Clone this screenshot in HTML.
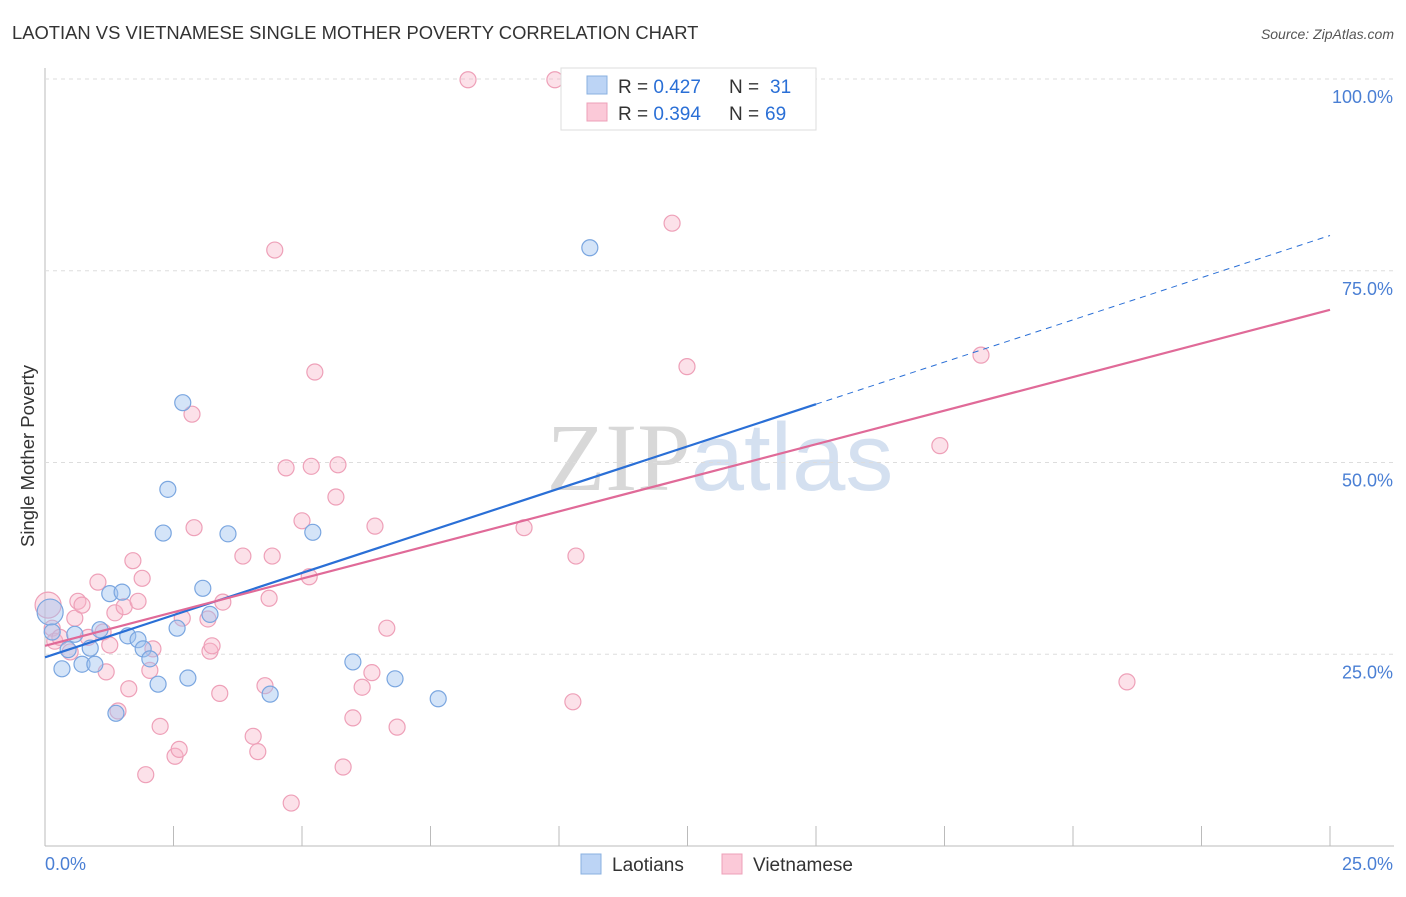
<!DOCTYPE html>
<html><head><meta charset="utf-8"><style>
body{margin:0;background:#fff;font-family:"Liberation Sans",sans-serif}
svg text{font-family:"Liberation Sans",sans-serif}
</style></head><body>
<svg id="chart" width="1406" height="892">
<text x="12" y="39" font-size="18.4" fill="#333">LAOTIAN VS VIETNAMESE SINGLE MOTHER POVERTY CORRELATION CHART</text>
<text x="1394" y="39" font-size="14" fill="#555" font-style="italic" text-anchor="end">Source: ZipAtlas.com</text>
<text x="34" y="456" font-size="18.5" fill="#333" transform="rotate(-90 34 456)" text-anchor="middle">Single Mother Poverty</text>
<text x="720" y="490" font-size="96" fill="#e4e4e4" text-anchor="middle"><tspan font-family="Liberation Serif" fill="#d8d8d8">ZIP</tspan><tspan fill="#d4e0f0">atlas</tspan></text>
<g id="grid"></g><g id="marks"></g><g id="lines"></g>
<g>
<rect x="561" y="68" width="255" height="62" fill="#fff" stroke="#ddd"/>
<rect x="587" y="76" width="20" height="18" fill="#bcd4f5" stroke="#8ab0e0"/>
<rect x="587" y="103" width="20" height="18" fill="#fbc9d8" stroke="#eea0b8"/>
<text x="618" y="93" font-size="19" fill="#333">R = <tspan fill="#2a6fd6">0.427</tspan></text>
<text x="729" y="93" font-size="19" fill="#333">N =</text>
<text x="770" y="93" font-size="19" fill="#2a6fd6">31</text>
<text x="618" y="120" font-size="19" fill="#333">R = <tspan fill="#2a6fd6">0.394</tspan></text>
<text x="729" y="120" font-size="19" fill="#333">N =</text>
<text x="765" y="120" font-size="19" fill="#2a6fd6">69</text>
</g>
<g>
<rect x="581" y="854" width="20" height="20" fill="#bcd4f5" stroke="#8ab0e0"/>
<text x="612" y="871" font-size="19" fill="#333">Laotians</text>
<rect x="722" y="854" width="20" height="20" fill="#fbc9d8" stroke="#eea0b8"/>
<text x="753" y="871" font-size="19" fill="#333">Vietnamese</text>
</g>
</svg>
<script>
const blueX=[0.10,0.14,0.33,0.45,0.58,0.72,0.88,0.97,1.07,1.26,1.38,1.50,1.61,1.81,1.91,2.04,2.20,2.30,2.39,2.57,2.68,2.78,3.07,3.21,3.56,4.38,5.21,5.99,6.81,7.65,10.6];
const blueY=[30.5,27.9,23.1,25.6,27.6,23.7,25.8,23.7,28.2,32.9,17.3,33.1,27.4,26.9,25.7,24.4,21.1,40.8,46.5,28.4,57.8,21.9,33.6,30.2,40.7,19.8,40.9,24.0,21.8,19.2,78.0];
const pinkX=[0.06,0.14,0.19,0.29,0.49,0.58,0.64,0.72,0.84,1.03,1.13,1.19,1.26,1.36,1.42,1.54,1.63,1.71,1.81,1.89,2.10,2.04,2.24,1.96,2.53,2.61,2.67,2.86,2.90,3.17,3.21,3.25,3.40,3.46,3.85,4.05,4.14,4.28,4.36,4.42,4.47,4.69,4.79,5.00,5.14,5.18,5.25,5.66,5.70,5.80,5.99,6.17,6.36,6.42,6.65,6.85,8.23,9.32,9.92,10.27,10.33,12.2,12.49,17.41,18.21,21.05];
const pinkY=[31.4,28.4,26.7,27.2,25.3,29.7,31.9,31.4,27.2,34.4,27.9,22.7,26.2,30.4,17.6,31.2,20.5,37.2,31.9,34.9,25.7,22.9,15.6,9.3,11.7,12.6,29.7,56.3,41.5,29.6,25.4,26.1,19.9,31.8,37.8,14.3,12.3,20.9,32.3,37.8,77.7,49.3,5.6,42.4,35.1,49.5,61.8,45.5,49.7,10.3,16.7,20.7,22.6,41.7,28.4,15.5,99.9,41.5,99.9,18.8,37.8,81.2,62.5,52.2,64.0,21.4];
const blueLine=[24.6,57.6]; // y at x=0 and x=15
const pinkLine=[26.1,69.9]; // y at x=0 and x=25
const yTicks=[25,50,75,100];
const yTickLabels=["25.0%","50.0%","75.0%","100.0%"];
const xTicks=[0,2.5,5,7.5,10,12.5,15,17.5,20,22.5,25];
const NS="http://www.w3.org/2000/svg";
const X=v=>45+v*51.4, Y=v=>846-v*7.67;
function mk(p,t,a){const e=document.createElementNS(NS,t);for(const k in a)e.setAttribute(k,a[k]);p.appendChild(e);return e;}
const g=document.getElementById('grid'),m=document.getElementById('marks'),l=document.getElementById('lines');
const ax=mk(g,'line',{x1:45,y1:68,x2:45,y2:846,stroke:'#bbb'});


const bx=mk(g,'line',{x1:45,y1:846,x2:1394,y2:846,stroke:'#bbb'});


yTicks.forEach((v,i)=>{
 const gl=mk(g,'line',{x1:45,y1:Y(v),x2:1394,y2:Y(v),stroke:'#ddd','stroke-dasharray':'4,4'});
 
 
 const t=mk(g,'text',{x:1393,y:Y(v)+24,'font-size':18,fill:'#4a7fd4','text-anchor':'end'});t.textContent=yTickLabels[i];
 
 
});
xTicks.forEach(v=>{
 const tk=mk(g,'line',{x1:X(v),y1:826,x2:X(v),y2:846,stroke:'#bbb'});
 
 
});
const t0=mk(g,'text',{x:45,y:870,'font-size':18,fill:'#4a7fd4'});t0.textContent='0.0%';


const t1=mk(g,'text',{x:1393,y:870,'font-size':18,fill:'#4a7fd4','text-anchor':'end'});t1.textContent='25.0%';


pinkX.forEach((x,i)=>{
 const c=mk(m,'circle',{cx:X(x),cy:Y(pinkY[i]),r:i==0?13:8,fill:'rgba(248,180,200,0.4)',stroke:'#eea0b8','stroke-width':1.2});
 
 
});
blueX.forEach((x,i)=>{
 const c=mk(m,'circle',{cx:X(x),cy:Y(blueY[i]),r:i==0?13:8,fill:'rgba(160,195,240,0.45)',stroke:'#7aa6e0','stroke-width':1.2});
 
 
});
const bs=(blueLine[1]-blueLine[0])/15;
const b1=mk(l,'line',{x1:X(0),y1:Y(blueLine[0]),x2:X(15),y2:Y(blueLine[1]),stroke:'#2a6fd6','stroke-width':2.2});


const b2=mk(l,'line',{x1:X(15),y1:Y(blueLine[1]),x2:X(25),y2:Y(blueLine[0]+bs*25),stroke:'#2a6fd6','stroke-width':1,'stroke-dasharray':'6,5'});


const p1=mk(l,'line',{x1:X(0),y1:Y(pinkLine[0]),x2:X(25),y2:Y(pinkLine[1]),stroke:'#e06a98','stroke-width':2.2});


</script>
</body></html>
